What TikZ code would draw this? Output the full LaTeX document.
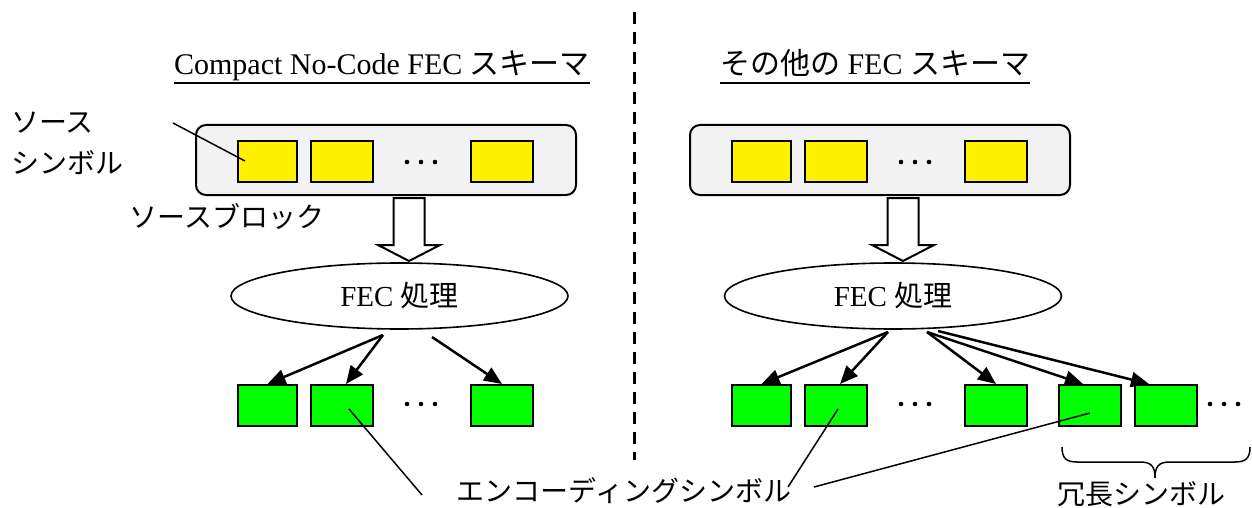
\documentclass[tikz,border=0pt]{standalone}
\usepackage{fontspec}
\setmainfont{Liberation Serif}
\newfontfamily\jp{Noto Sans CJK JP}
\usetikzlibrary{shapes.geometric,arrows.meta,calc}
\begin{document}
\begin{tikzpicture}[x=1pt,y=-1pt,
  blk/.style={draw, line width=2pt, rounded corners=10pt, fill=black!5, minimum width=380pt, minimum height=70pt, inner sep=0pt},
  ysym/.style={draw, line width=2pt, fill=yellow, minimum height=41pt, minimum width=62pt, inner sep=0pt},
  gsym/.style={draw, line width=2pt, fill=green, minimum height=41pt, minimum width=62pt, inner sep=0pt},
  proc/.style={draw, ellipse, line width=1.6pt, minimum width=337pt, minimum height=66pt, inner sep=0pt, font=\fontsize{29}{34}\selectfont},
  jlab/.style={font=\jp\fontsize{28}{34}\selectfont, inner sep=0pt},
  ttl/.style={font=\fontsize{30}{36}\selectfont, inner sep=0pt, anchor=base},
  conn/.style={line width=2.5pt, -{Triangle[length=18pt,width=15pt]}},
  lead/.style={line width=1.5pt},
  hollow/.style={draw, line width=2pt, fill=white, line join=miter},
  sep/.style={line width=3pt, dash pattern=on 12pt off 8pt}
]
\useasboundingbox (0,0) rectangle (1252,508);

% separator
\coordinate (sepA) at (634,12);
\coordinate (sepB) at (634,460);
\draw[sep] (sepA) -- (sepB);

% ---------- left panel ----------
\node[ttl] (t1) at (382,75) {Compact No-Code FEC {\jp スキーマ}};
\draw[line width=2.2pt] ([yshift=-8pt]t1.base west) -- ([yshift=-8pt]t1.base east);

\node[blk] (b1) at (386,160) {};
\node[ysym, minimum width=59pt] (y1) at (267.5,161.5) {};
\node[ysym] (y2) at (342,161.5) {};
\node[ysym] (y3) at (502,161.5) {};
\foreach \x in {407,421,435} \fill (\x,162) circle (2.3);

\node[jlab, anchor=west] (ls1) at (11,123) {ソース};
\node[jlab, anchor=west] (ls2) at (11,163) {シンボル};
\coordinate (la) at (173,123);
\coordinate (lb) at (245,161);
\draw[lead] (la) -- (lb);
\node[jlab] (lsb) at (227,217) {ソースブロック};

\draw[hollow] (393.5,198) -- (424.5,198) -- (424.5,245) -- (440,245) -- (409,261) -- (378,245) -- (393.5,245) -- cycle;

\node[proc] (e1) at (399.5,296) {FEC {\jp 処理}};

\node[gsym, minimum width=59pt] (g1) at (267.5,405.5) {};
\node[gsym] (g2) at (342,405.5) {};
\node[gsym] (g3) at (502,405.5) {};
\foreach \x in {407,421,435} \fill (\x,404) circle (2.3);

\coordinate (s1) at (383,335);
\coordinate (s2) at (432,337);
\draw[conn] (s1) -- (g1.north);
\draw[conn] (s1) -- ([xshift=4pt]g2.north);
\draw[conn] (s2) -- (g3.north);

% ---------- right panel ----------
\node[ttl] (t2) at (875,75) {{\jp その他の} FEC {\jp スキーマ}};
\draw[line width=2.2pt] ([yshift=-8pt]t2.base west) -- ([yshift=-8pt]t2.base east);

\node[blk] (b2) at (880,160) {};
\node[ysym, minimum width=59pt] (yr1) at (761.5,161.5) {};
\node[ysym] (yr2) at (836,161.5) {};
\node[ysym] (yr3) at (996,161.5) {};
\foreach \x in {901,915,929} \fill (\x,162) circle (2.3);

\draw[hollow] (887.5,198) -- (918.5,198) -- (918.5,245) -- (934,245) -- (903,261) -- (872,245) -- (887.5,245) -- cycle;

\node[proc] (e2) at (893,296) {FEC {\jp 処理}};

\node[gsym, minimum width=59pt] (r1) at (761.5,405.5) {};
\node[gsym] (r2) at (836,405.5) {};
\node[gsym] (r3) at (996,405.5) {};
\node[gsym] (r4) at (1090,405.5) {};
\node[gsym] (r5) at (1166,405.5) {};
\foreach \x in {901,915,929} \fill (\x,404) circle (2.3);
\foreach \x in {1210,1224,1238} \fill (\x,404) circle (2.3);

\coordinate (rs1) at (888,332);
\coordinate (rs2) at (927,332);
\coordinate (rs3) at (938,331);
\draw[conn] (rs1) -- (r1.north);
\draw[conn] (rs1) -- ([xshift=4pt]r2.north);
\draw[conn] (rs2) -- (r3.north);
\draw[conn] (rs2) -- ([xshift=-7pt]r4.north);
\draw[conn] (rs3) -- ([xshift=-17pt]r5.north);

% brace
\coordinate (brL) at (1062,447);
\coordinate (brR) at (1250,447);
\draw[line width=1.5pt] (brL) .. controls (1062,458) and (1066,462) .. (1077,462) -- (1140,462)
  .. controls (1151,462) and (1155,466) .. (1155,478)
  .. controls (1155,466) and (1159,462) .. (1170,462) -- (1235,462)
  .. controls (1246,462) and (1250,458) .. (brR);

% labels bottom
\node[jlab] (lenc) at (624,491) {エンコーディングシンボル};
\node[jlab] (lred) at (1141,494) {冗長シンボル};

\coordinate (p1) at (349,409);
\coordinate (q1) at (422,495);
\draw[lead] (p1) -- (q1);
\coordinate (p2) at (838,409);
\coordinate (q2) at (788,487);
\draw[lead] (p2) -- (q2);
\coordinate (p3) at (1090,413);
\coordinate (q3) at (814,487);
\draw[lead] (p3) -- (q3);
\end{tikzpicture}
\end{document}
